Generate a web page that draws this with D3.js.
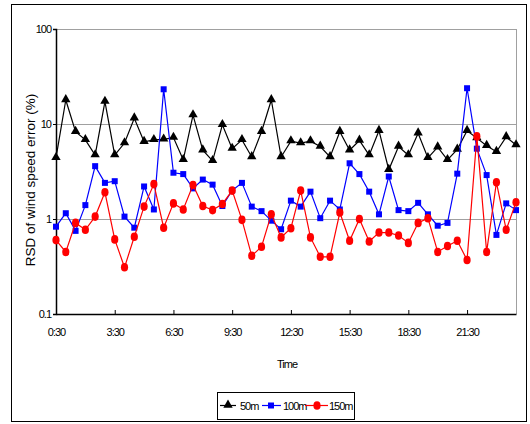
<!DOCTYPE html>
<html><head><meta charset="utf-8">
<script src="https://cdn.jsdelivr.net/npm/d3@7/dist/d3.min.js"></script>
<style>body{margin:0;background:#fff}svg{display:block}text{font-family:"Liberation Sans",Arial,sans-serif}</style>
</head><body><svg id="c" width="530" height="424"></svg>
<script>
const times = ["0:30","1:00","1:30","2:00","2:30","3:00","3:30","4:00","4:30","5:00","5:30","6:00",
"6:30","7:00","7:30","8:00","8:30","9:00","9:30","10:00","10:30","11:00","11:30","12:00",
"12:30","13:00","13:30","14:00","14:30","15:00","15:30","16:00","16:30","17:00","17:30","18:00",
"18:30","19:00","19:30","20:00","20:30","21:00","21:30","22:00","22:30","23:00","23:30","24:00"];
const tickLabels = ["0:30","3:30","6:30","9:30","12:30","15:30","18:30","21:30"];
const yTicks = [0.1, 1, 10, 100];
const yTickLabels = ["0.1","1","10","100"];
const s50 = [4.4,17.9,8.3,6.8,4.7,17.2,4.7,6.3,11.5,6.5,6.8,6.9,7.2,4.2,12.4,5.3,
4.1,9.8,5.5,6.8,4.5,8.3,17.9,4.5,6.6,6.3,6.6,5.8,4.5,8.3,5.3,6.7,
4.7,8.5,3.3,5.8,4.7,8.0,4.4,5.7,4.2,5.4,8.5,7.1,5.9,5.1,7.3,6.0];
const s100 = [0.83,1.15,0.75,1.4,3.6,2.4,2.5,1.06,0.81,2.2,1.26,23.2,3.07,2.97,2.1,2.6,
2.3,1.37,2.0,2.4,1.35,1.21,0.96,0.78,1.56,1.35,1.94,1.02,1.56,1.26,3.86,2.97,
1.94,1.12,2.8,1.24,1.21,1.48,1.12,0.85,0.91,3.0,23.8,5.5,2.9,0.68,1.46,1.24];
const s150 = [0.60,0.45,0.91,0.77,1.06,1.91,0.61,0.31,0.65,1.35,2.33,0.81,1.46,1.26,2.28,1.37,
1.24,1.44,1.99,0.98,0.41,0.51,1.12,0.64,0.80,1.99,0.64,0.40,0.40,1.17,0.59,1.0,
0.58,0.72,0.72,0.67,0.56,0.91,1.02,0.45,0.52,0.59,0.37,7.4,0.45,2.43,0.77,1.5];
const seriesNames = ["50m","100m","150m"];

const svg = d3.select("#c");
const L=56,R=516,T=29,B=314;
const x = d3.scalePoint().domain(times).range([L,R]).padding(0);
const y = d3.scaleLog().domain([0.1,100]).range([B,T]);

// outer frame
svg.append("rect").attr("x",11.5).attr("y",4.5).attr("width",515).attr("height",417)
  .attr("fill","none").attr("stroke","#000").attr("stroke-width",1);

// gridlines
svg.append("g").selectAll("line").data(yTicks.filter(d=>d>0.1)).join("line")
  .attr("x1",L).attr("x2",R).attr("y1",d=>Math.round(y(d))+0.5).attr("y2",d=>Math.round(y(d))+0.5)
  .attr("stroke","#a0a0a0").attr("stroke-width",1);
svg.append("line").attr("x1",R+0.5).attr("x2",R+0.5).attr("y1",T).attr("y2",B)
  .attr("stroke","#a0a0a0");

// y axis
const yAxis = d3.axisLeft(y).tickValues(yTicks).tickFormat((d,i)=>yTickLabels[i]).tickSize(3).tickPadding(2);
const gy = svg.append("g").attr("transform",`translate(${L},0)`).call(yAxis);
gy.select(".domain").attr("stroke-width",1.5);
gy.selectAll("text").style("font-size","11px").style("letter-spacing","-1px").attr("fill","#000");

// x axis
const xAxis = d3.axisBottom(x).tickValues(tickLabels).tickSize(-4).tickPadding(14).tickSizeOuter(0);
const gx = svg.append("g").attr("transform",`translate(0,${B})`).call(xAxis);
gx.select(".domain").attr("stroke-width",1.5);
gx.selectAll("text").style("font-size","11px").style("letter-spacing","-1px").attr("fill","#000");

// titles
svg.append("text").attr("transform",`translate(34.5,180) rotate(-90)`).attr("text-anchor","middle")
  .style("font-size","13.5px").text("RSD of wind speed error (%)");
svg.append("text").attr("x",287).attr("y",368).attr("text-anchor","middle")
  .style("font-size","11px").style("letter-spacing","-1px").text("Time");

const line = d3.line().x((d,i)=>x(times[i])).y(d=>y(d));
const tri = d3.symbol().type(d3.symbolTriangle).size(38);

function drawSeries(data,color,marker){
  const g = svg.append("g");
  g.append("path").datum(data).attr("d",line).attr("fill","none").attr("stroke",color).attr("stroke-width",1.2);
  const pts = g.selectAll("g").data(data).join("g").attr("transform",(d,i)=>`translate(${x(times[i])},${y(d)})`);
  marker(pts,color);
}
function triM(sel,c){ sel.append("path").attr("d",tri).attr("fill",c).attr("transform","translate(0,-0.5)"); }
function sqM(sel,c){ sel.append("rect").attr("x",-3).attr("y",-3).attr("width",6).attr("height",6).attr("fill",c); }
function circM(sel,c){ sel.append("ellipse").attr("rx",3.6).attr("ry",4.3).attr("fill",c); }

drawSeries(s50,"#000",triM);
drawSeries(s100,"#0000ff",sqM);
drawSeries(s150,"#ff0000",circM);

// legend
const lg = svg.append("g");
lg.append("rect").attr("x",217.5).attr("y",392.5).attr("width",137).attr("height",27)
  .attr("fill","#fff").attr("stroke","#000");
const ly=405.5;
const items=[{x1:220,x2:236,cx:228,tx:240,c:"#000",m:triM},{x1:262,x2:281,cx:271,tx:283,c:"#0000ff",m:sqM},{x1:305,x2:328,cx:317,tx:329,c:"#ff0000",m:circM}];
items.forEach((it,i)=>{
  lg.append("line").attr("x1",it.x1).attr("x2",it.x2).attr("y1",ly).attr("y2",ly).attr("stroke",it.c).attr("stroke-width",1.2);
  const mg = lg.append("g").attr("transform",`translate(${it.cx},${ly})`);
  it.m(mg,it.c);
  lg.append("text").attr("x",it.tx).attr("y",ly+4).style("font-size","11px").style("letter-spacing","-1px").text(seriesNames[i]);
});
</script></body></html>
